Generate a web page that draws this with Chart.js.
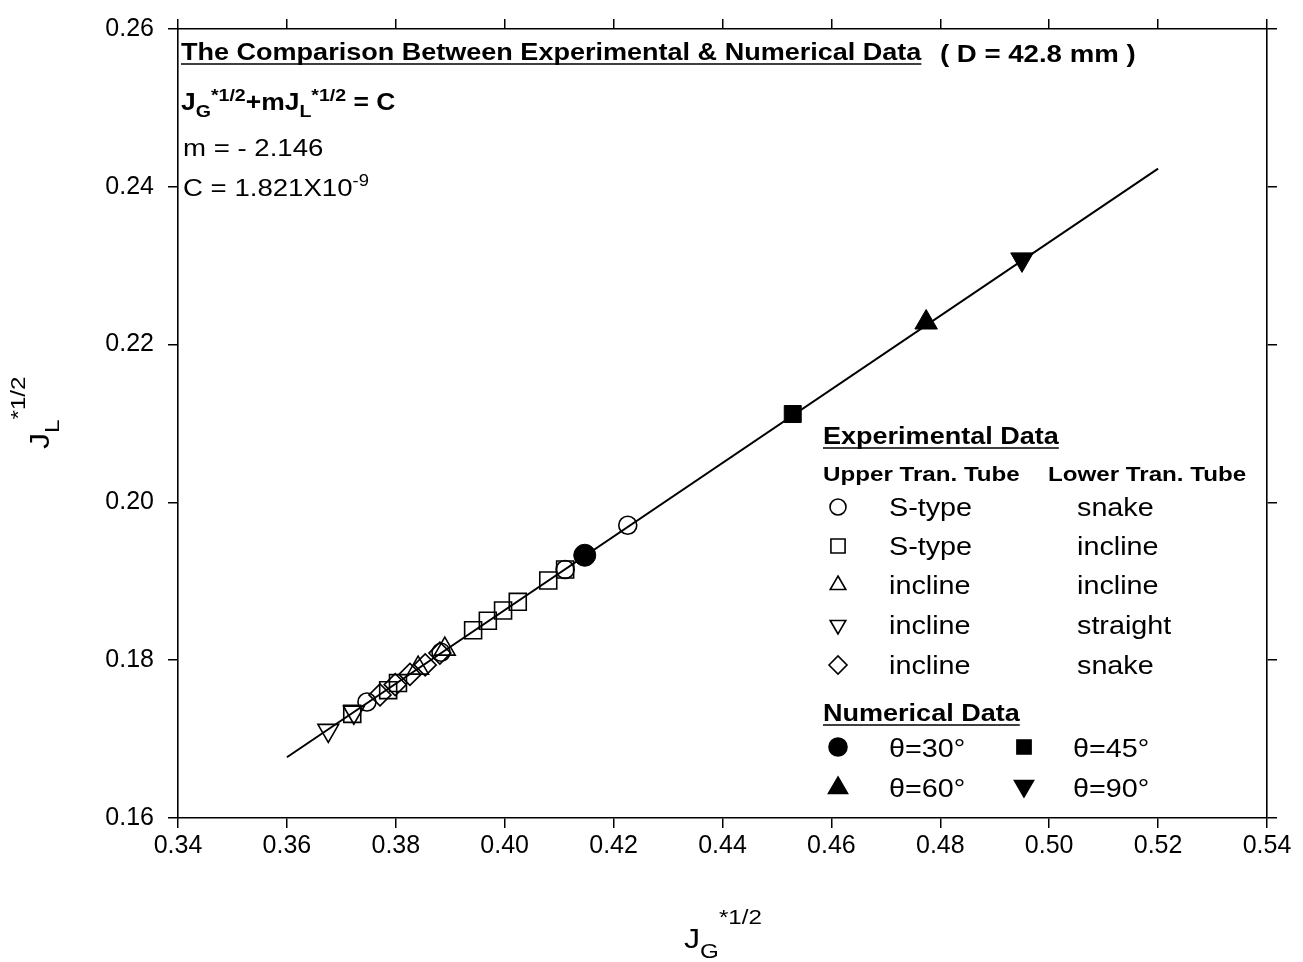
<!DOCTYPE html>
<html>
<head>
<meta charset="utf-8">
<script src="https://cdn.jsdelivr.net/npm/chart.js@4.4.0/dist/chart.umd.min.js"></script>
<style>
html,body{margin:0;padding:0;background:#fff;}
</style>
</head>
<body>
<canvas id="chart" width="1303" height="962"></canvas>
<script>
// fitted line  J_G*^1/2 + m J_L*^1/2 = C
var fitX = [0.36, 0.52];
var fitY = [0.1677, 0.2423];

// experimental data (upper / lower transition tube)
var sSnakeX = [0.3747, 0.3883, 0.4111, 0.4226];
var sSnakeY = [0.1747, 0.1810, 0.1915, 0.1971];
var sInclineX = [0.3720, 0.3786, 0.3804, 0.3942, 0.3969, 0.3997, 0.4024, 0.4080, 0.4111];
var sInclineY = [0.1732, 0.1762, 0.1771, 0.1838, 0.1850, 0.1863, 0.1874, 0.1901, 0.1915];
var incInclineX = [0.3841, 0.3890];
var incInclineY = [0.1790, 0.1814];
var incStraightX = [0.3676, 0.3723];
var incStraightY = [0.1711, 0.1734];
var incSnakeX = [0.3771, 0.3799, 0.3826, 0.3854, 0.3881];
var incSnakeY = [0.1756, 0.1769, 0.1782, 0.1794, 0.1809];

// numerical data, theta = 30, 45, 60, 90
var numX = [0.4147, 0.4529, 0.4774, 0.4950];
var numY = [0.1933, 0.2112, 0.2228, 0.2308];
var numLabels = ['θ=30°', 'θ=45°', 'θ=60°', 'θ=90°'];

var xMin = 0.34, xMax = 0.54, xStep = 0.02;
var yMin = 0.16, yMax = 0.26, yStep = 0.02;

function pts(xs, ys){
	var out = [];
	for(var i=0;i<xs.length;i++){ out.push({x: xs[i], y: ys[i]}); }
	return out;
}

function openSet(xs, ys, style, r, rot){
	return {
		data: pts(xs, ys),
		showLine: false,
		pointStyle: style,
		pointRadius: r,
		pointRotation: rot || 0,
		pointBackgroundColor: 'rgba(0,0,0,0)',
		pointBorderColor: '#000',
		pointBorderWidth: 1.6
	};
}

var FONT = '"Liberation Sans", Arial, sans-serif';
var SX = 1.15; // the lettering is a bit wide

function runs(ctx, x, y, list){
	ctx.save();
	ctx.translate(x, y);
	ctx.scale(SX, 1);
	var cx = 0;
	list.forEach(function(r){
		ctx.font = r[1];
		ctx.fillText(r[0], cx, r[2] || 0);
		cx += ctx.measureText(r[0]).width;
	});
	ctx.restore();
	return x + cx * SX;
}

function underlined(ctx, x, y, text, font){
	var end = runs(ctx, x, y, [[text, font]]);
	ctx.beginPath();
	ctx.moveTo(x, y + 4);
	ctx.lineTo(end, y + 4);
	ctx.lineWidth = 1.6;
	ctx.stroke();
	return end;
}

function symbol(ctx, style, r, rot, filled, x, y){
	ctx.save();
	ctx.fillStyle = filled ? '#000' : 'rgba(0,0,0,0)';
	ctx.strokeStyle = '#000';
	ctx.lineWidth = 1.6;
	Chart.helpers.drawPoint(ctx, {pointStyle: style, radius: r, rotation: rot, borderWidth: 1.6}, x, y);
	ctx.restore();
}

var textPlugin = {
	id: 'texts',
	afterDraw: function(chart){
		var ctx = chart.ctx;
		ctx.save();
		ctx.fillStyle = '#000';
		ctx.strokeStyle = '#000';
		ctx.textBaseline = 'alphabetic';
		ctx.textAlign = 'left';

		var b23 = 'bold 23px ' + FONT, b17 = 'bold 17px ' + FONT;
		var r24 = '24px ' + FONT, r16 = '16px ' + FONT;

		underlined(ctx, 181, 60, 'The Comparison Between Experimental & Numerical Data', 'bold 23.5px ' + FONT);
		runs(ctx, 940, 62, [['( D = 42.8 mm )', 'bold 24px ' + FONT]]);

		runs(ctx, 181, 110, [['J', b23], ['G', b17, 7], ['*1/2', b17, -9], ['+mJ', b23], ['L', b17, 7], ['*1/2', b17, -9], [' = C', b23]]);
		runs(ctx, 183, 156, [['m = - 2.146', r24]]);
		runs(ctx, 183, 196, [['C = 1.821X10', r24], ['-9', r16, -10]]);

		// legend block
		var lx = 823;
		var bh = 'bold 23.5px ' + FONT, bs = 'bold 21px ' + FONT;
		underlined(ctx, lx, 444, 'Experimental Data', bh);
		runs(ctx, lx, 481, [['Upper Tran. Tube', bs]]);
		runs(ctx, 1048, 481, [['Lower Tran. Tube', bs]]);
		var rows = [
			['circle', 8, 0, 'S-type', 'snake'],
			['rect', 10, 0, 'S-type', 'incline'],
			['triangle', 9, 0, 'incline', 'incline'],
			['triangle', 9, 180, 'incline', 'straight'],
			['rectRot', 9, 0, 'incline', 'snake']
		];
		var rowY = [507, 546, 585, 625, 665];
		var r26 = '25px ' + FONT;
		rows.forEach(function(r, i){
			symbol(ctx, r[0], r[1], r[2], false, 838, rowY[i]);
			runs(ctx, 889, rowY[i] + 9, [[r[3], r26]]);
			runs(ctx, 1077, rowY[i] + 9, [[r[4], r26]]);
		});

		underlined(ctx, lx, 721, 'Numerical Data', bh);
		var numSym = [['circle', 9, 0, 838, 747], ['rect', 10, 0, 1024, 747], ['triangle', 11, 0, 838, 788], ['triangle', 11, 180, 1024, 786]];
		var numTx = [[889, 757], [1073, 757], [889, 797], [1073, 797]];
		numSym.forEach(function(s, i){
			symbol(ctx, s[0], s[1], s[2], true, s[3], s[4]);
			runs(ctx, numTx[i][0], numTx[i][1], [[numLabels[i], r26]]);
		});

		// axis titles
		var t28 = '28px ' + FONT, t21 = '21px ' + FONT;
		runs(ctx, 684, 948, [['J', t28], ['G', t21, 10], ['*1/2', t21, -24]]);
		ctx.save();
		ctx.translate(49, 449);
		ctx.rotate(-Math.PI / 2);
		runs(ctx, 0, 0, [['J', t28], ['L', t21, 10], ['*1/2', t21, -24]]);
		ctx.restore();

		ctx.restore();
	}
};

function axis(pos, min, max, step, show, size){
	return {
		type: 'linear',
		position: pos,
		min: min,
		max: max,
		afterFit: function(s){
			if(pos === 'left' || pos === 'right'){ s.width = size; } else { s.height = size; }
		},
		ticks: {
			display: show,
			stepSize: step,
			color: '#000',
			padding: pos === 'left' ? 14 : 3,
			font: {family: FONT, size: 25},
			callback: function(v){ return v.toFixed(2); }
		},
		grid: {
			display: true,
			drawOnChartArea: false,
			drawTicks: true,
			tickLength: 10,
			color: '#000',
			lineWidth: 1.5
		},
		border: {display: true, color: '#000', width: 1.6}
	};
}

new Chart(document.getElementById('chart'), {
	type: 'scatter',
	data: {
		datasets: [
			{
				data: pts(fitX, fitY),
				showLine: true,
				borderColor: '#000',
				borderWidth: 2,
				pointRadius: 0,
				order: 10
			},
			openSet(sSnakeX, sSnakeY, 'circle', 9),
			openSet(sInclineX, sInclineY, 'rect', 12),
			openSet(incInclineX, incInclineY, 'triangle', 12),
			openSet(incStraightX, incStraightY, 'triangle', 12, 180),
			openSet(incSnakeX, incSnakeY, 'rectRot', 11),
			{
				data: pts(numX, numY),
				showLine: false,
				pointStyle: ['circle', 'rect', 'triangle', 'triangle'],
				pointRotation: [0, 0, 0, 180],
				pointRadius: [11, 12, 13, 13],
				pointBackgroundColor: '#000',
				pointBorderColor: '#000',
				pointBorderWidth: 1
			}
		]
	},
	options: {
		responsive: false,
		animation: false,
		layout: {padding: 0},
		plugins: {
			legend: {display: false},
			tooltip: {enabled: false}
		},
		scales: {
			x: axis('bottom', xMin, xMax, xStep, true, 144),
			x2: axis('top', xMin, xMax, xStep, false, 21),
			y: axis('left', yMin, yMax, yStep, true, 178),
			y2: axis('right', yMin, yMax, yStep, false, 36)
		}
	},
	plugins: [textPlugin]
});
</script>
</body>
</html>
